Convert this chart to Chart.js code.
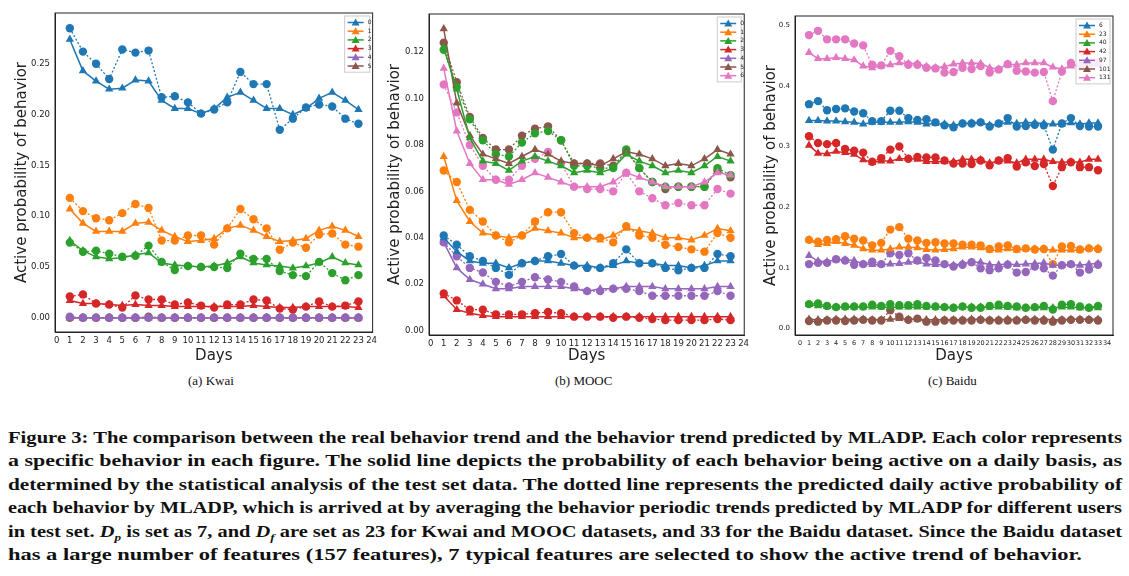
<!DOCTYPE html>
<html>
<head>
<meta charset="utf-8">
<script src="https://cdn.jsdelivr.net/npm/chart.js@4.4.0/dist/chart.umd.min.js"></script>
<style>
body { margin: 0; background: #fff; width: 1129px; height: 576px; overflow: hidden; position: relative; }
.cv { position: absolute; top: 0; height: 365px; }
.sub { position: absolute; top: 373px; font: 13px "Liberation Serif", serif; color: #111; }
#cap { position: absolute; left: 8px; top: 428px; width: 1114px; font: bold 17px "Liberation Serif", serif; color: #111; }
#cap div { height: 23.4px; white-space: nowrap; }
#cap span.ln { display: inline-block; transform-origin: 0 0; }
</style>
</head>
<body>
<div class="cv" style="left:0;width:378px"><canvas id="kwai"></canvas></div>
<div class="cv" style="left:370px;width:380px"><canvas id="mooc"></canvas></div>
<div class="cv" style="left:750px;width:379px"><canvas id="baidu"></canvas></div>
<div class="sub" style="left:188px">(a) Kwai</div>
<div class="sub" style="left:555px">(b) MOOC</div>
<div class="sub" style="left:928px">(c) Baidu</div>
<div id="cap">
<div><span class="ln">Figure 3: The comparison between the real behavior trend and the behavior trend predicted by MLADP. Each color represents</span></div>
<div><span class="ln">a specific behavior in each figure. The solid line depicts the probability of each behavior being active on a daily basis, as</span></div>
<div><span class="ln">determined by the statistical analysis of the test set data. The dotted line represents the predicted daily active probability of</span></div>
<div><span class="ln">each behavior by MLADP, which is arrived at by averaging the behavior periodic trends predicted by MLADP for different users</span></div>
<div><span class="ln">in test set. <i>D<sub style="font-size:11px">p</sub></i> is set as 7, and <i>D<sub style="font-size:11px">f</sub></i> are set as 23 for Kwai and MOOC datasets, and 33 for the Baidu dataset. Since the Baidu dataset</span></div>
<div><span class="ln" data-w="1074">has a large number of features (157 features), 7 typical features are selected to show the active trend of behavior.</span></div>
</div>
<script>
var colors = ['#1f77b4', '#ff7f0e', '#2ca02c', '#d62728', '#9467bd', '#8c564b', '#e377c2'];

// ---- Kwai ----
var kwai_labels = ['0', '1', '2', '3', '4', '5'];
var kwai_real = [
    [.274,.243,.233,.225,.226,.234,.233,.214,.206,.206,.201,.206,.217,.222,.214,.206,.206,.200,.206,.216,.222,.214,.205],
    [.107,.093,.085,.085,.085,.093,.094,.086,.080,.075,.076,.078,.088,.091,.086,.080,.075,.076,.078,.086,.090,.086,.080],
    [.076,.066,.060,.058,.059,.062,.064,.054,.052,.051,.050,.051,.054,.060,.054,.052,.051,.049,.051,.054,.060,.054,.052],
    [.017,.014,.014,.013,.012,.013,.012,.012,.011,.011,.011,.011,.011,.011,.012,.011,.010,.010,.011,.011,.011,.011,.010],
    [0,0,0,0,0,0,0,0,0,0,0,0,0,0,0,0,0,0,0,0,0,0,0],
    [0,0,0,0,0,0,0,0,0,0,0,0,0,0,0,0,0,0,0,0,0,0,0]
];
var kwai_pred = [
    [.285,.262,.250,.235,.264,.261,.263,.217,.218,.212,.201,.205,.212,.242,.230,.230,.185,.196,.207,.210,.208,.196,.191],
    [.118,.105,.098,.096,.103,.112,.108,.076,.076,.081,.081,.072,.088,.107,.097,.088,.067,.074,.069,.082,.083,.072,.070],
    [.074,.065,.066,.063,.060,.061,.071,.055,.047,.051,.050,.050,.049,.063,.058,.058,.046,.042,.041,.055,.044,.037,.042],
    [.021,.023,.014,.013,.010,.022,.018,.018,.013,.015,.012,.010,.013,.013,.018,.017,.009,.008,.011,.016,.011,.012,.016],
    [.001,0,0,0,0,0,0,0,0,0,0,0,0,0,0,0,0,0,0,0,0,0,0],
    [0,0,0,0,0,0,.001,0,0,0,0,0,0,0,0,0,0,0,0,0,0,0,0]
];
var kwai_yticks = [0, 0.05, 0.10, 0.15, 0.20, 0.25];

// ---- MOOC ----
var mooc_labels = ['0', '1', '2', '3', '4', '5', '6'];
var mooc_real = [
    [.040,.034,.030,.029,.029,.027,.029,.030,.030,.029,.028,.028,.027,.028,.030,.029,.029,.028,.028,.027,.028,.030,.030],
    [.075,.056,.047,.042,.041,.040,.041,.044,.043,.042,.040,.040,.039,.041,.044,.043,.042,.040,.040,.039,.041,.044,.043],
    [.122,.104,.083,.073,.072,.069,.073,.075,.073,.071,.068,.069,.068,.070,.076,.073,.071,.068,.069,.068,.071,.075,.073],
    [.015,.009,.0075,.0065,.006,.006,.006,.006,.006,.006,.006,.006,.006,.006,.006,.006,.006,.006,.006,.006,.006,.006,.006],
    [.038,.027,.022,.020,.018,.018,.019,.019,.019,.019,.018,.017,.018,.018,.019,.019,.019,.018,.018,.018,.018,.019,.019],
    [.130,.098,.084,.076,.074,.072,.075,.078,.076,.073,.072,.072,.071,.074,.077,.076,.074,.071,.072,.071,.074,.078,.076],
    [.113,.086,.072,.065,.065,.063,.065,.068,.066,.064,.062,.062,.062,.064,.068,.066,.064,.062,.062,.062,.064,.068,.067]
];
var mooc_pred = [
    [.041,.037,.032,.030,.027,.024,.029,.030,.032,.033,.028,.027,.027,.029,.035,.029,.029,.027,.026,.027,.027,.033,.032],
    [.069,.064,.052,.047,.041,.038,.041,.047,.051,.051,.042,.040,.040,.038,.045,.041,.040,.037,.036,.035,.034,.042,.040],
    [.121,.105,.091,.082,.076,.075,.081,.085,.086,.082,.071,.071,.070,.070,.078,.070,.064,.062,.062,.062,.062,.070,.067],
    [.016,.013,.009,.009,.007,.007,.007,.0075,.008,.0075,.006,.006,.006,.0055,.006,.0055,.005,.0045,.0045,.0045,.0045,.005,.0045],
    [.038,.032,.027,.025,.021,.019,.021,.023,.022,.021,.019,.017,.017,.018,.018,.017,.015,.015,.015,.015,.015,.017,.015],
    [.124,.107,.092,.083,.078,.078,.084,.087,.088,.082,.072,.072,.072,.071,.077,.070,.064,.061,.062,.062,.062,.069,.066],
    [.106,.094,.080,.071,.065,.065,.071,.074,.077,.072,.062,.061,.061,.060,.068,.060,.057,.054,.055,.054,.054,.061,.059]
];
var mooc_yticks = [0, 0.02, 0.04, 0.06, 0.08, 0.10, 0.12];

// ---- Baidu ----
var baidu_labels = ['6', '23', '40', '42', '97', '101', '131'];
var baidu_real = [
    [.343,.343,.342,.342,.341,.340,.337,.340,.340,.340,.340,.341,.340,.337,.338,.337,.335,.338,.339,.340,.335,.337,.340,.338,.340,.339,.338,.337,.337,.339,.337,.339,.339],
    [.146,.138,.140,.143,.140,.137,.131,.129,.129,.131,.134,.134,.133,.130,.129,.130,.131,.134,.134,.133,.129,.129,.131,.129,.131,.131,.131,.129,.129,.129,.129,.132,.132],
    [.039,.037,.036,.035,.035,.035,.035,.035,.035,.035,.035,.035,.035,.035,.035,.035,.034,.035,.035,.035,.035,.035,.035,.034,.034,.034,.034,.034,.035,.035,.034,.034,.034],
    [.302,.289,.288,.292,.290,.287,.278,.274,.276,.276,.280,.280,.279,.275,.275,.275,.275,.279,.279,.278,.273,.276,.276,.273,.279,.279,.279,.275,.274,.275,.274,.279,.279],
    [.120,.111,.110,.113,.113,.112,.106,.105,.105,.106,.107,.109,.110,.106,.105,.105,.104,.107,.109,.109,.105,.105,.106,.105,.106,.107,.108,.104,.104,.105,.104,.106,.107],
    [.015,.014,.014,.015,.015,.015,.015,.014,.014,.015,.016,.015,.015,.014,.014,.014,.014,.014,.015,.015,.014,.014,.015,.014,.015,.015,.015,.014,.014,.015,.015,.015,.015],
    [.455,.445,.445,.447,.445,.443,.433,.430,.433,.435,.438,.437,.437,.432,.430,.432,.436,.438,.438,.437,.430,.428,.436,.435,.438,.438,.438,.431,.428,.433,.434,.436,.436]
];
var baidu_pred = [
    [.370,.375,.360,.362,.363,.358,.355,.342,.342,.359,.359,.347,.344,.345,.340,.335,.332,.338,.338,.340,.333,.338,.347,.333,.334,.336,.335,.295,.338,.347,.334,.333,.333],
    [.146,.143,.146,.147,.152,.148,.145,.137,.141,.163,.167,.148,.145,.141,.142,.140,.140,.138,.138,.137,.131,.135,.137,.131,.132,.130,.131,.106,.135,.136,.130,.132,.131],
    [.040,.041,.037,.035,.036,.036,.036,.039,.037,.040,.038,.038,.040,.037,.036,.035,.034,.036,.034,.034,.037,.039,.037,.036,.034,.035,.037,.031,.039,.040,.036,.034,.037],
    [.317,.306,.304,.306,.296,.293,.290,.275,.281,.295,.300,.280,.283,.282,.282,.277,.272,.272,.271,.277,.269,.277,.281,.267,.274,.268,.271,.235,.266,.274,.266,.266,.261],
    [.106,.108,.108,.114,.112,.105,.106,.110,.106,.124,.121,.124,.112,.116,.112,.106,.102,.105,.109,.099,.096,.099,.105,.092,.093,.102,.099,.087,.104,.106,.092,.097,.105],
    [.012,.011,.013,.013,.012,.013,.014,.013,.013,.030,.019,.014,.016,.011,.011,.013,.013,.013,.013,.014,.013,.013,.013,.013,.014,.013,.013,.011,.013,.014,.014,.014,.013],
    [.484,.491,.477,.477,.477,.470,.467,.435,.434,.458,.449,.435,.435,.430,.429,.422,.423,.430,.428,.433,.422,.427,.436,.425,.424,.422,.423,.375,.424,.438,.433,.437,.438]
];
var baidu_yticks = [0, 0.1, 0.2, 0.3, 0.4, 0.5];

// stretch each caption line to the width it has in the picture
document.querySelectorAll('#cap span.ln').forEach(function (s) {
    var target = parseFloat(s.getAttribute('data-w') || 1114);
    s.style.transform = 'scaleX(' + (target / s.getBoundingClientRect().width) + ')';
});

// box around the plot + small legend with the real (triangle) series
var framePlugin = {
    id: 'frame',
    afterDraw: function (chart) {
        var a = chart.chartArea, c = chart.ctx;
        c.save();
        c.strokeStyle = '#222'; c.lineWidth = 1;
        c.strokeRect(a.left, a.top, a.right - a.left, a.bottom - a.top);
        var labels = chart.options.plugins.frame.labels;
        var w = chart.options.plugins.frame.boxW, rowH = 8.7;
        var x0 = a.right - w - 3, y0 = a.top + 3;
        c.fillStyle = 'rgba(255,255,255,0.85)';
        c.strokeStyle = '#ccc';
        c.fillRect(x0, y0, w, labels.length * rowH + 4);
        c.strokeRect(x0, y0, w, labels.length * rowH + 4);
        c.font = '6px "DejaVu Sans"';
        c.textBaseline = 'middle';
        for (var i = 0; i < labels.length; i++) {
            var y = y0 + 6.5 + i * rowH;
            c.strokeStyle = colors[i]; c.fillStyle = colors[i]; c.lineWidth = 1.5;
            c.beginPath(); c.moveTo(x0 + 3, y); c.lineTo(x0 + 19, y); c.stroke();
            c.beginPath(); c.moveTo(x0 + 11, y - 4); c.lineTo(x0 + 15, y + 3); c.lineTo(x0 + 7, y + 3); c.closePath(); c.fill();
            c.fillStyle = '#222';
            c.fillText(labels[i], x0 + 23, y);
        }
        c.restore();
    }
};

function makeChart(id, labels, real, pred, yticks, cfg) {
    var datasets = [];
    for (var i = 0; i < real.length; i++) {
        datasets.push({
            data: pred[i].map(function (v, j) { return { x: j + 1, y: v }; }),
            borderColor: colors[i], backgroundColor: colors[i],
            borderWidth: 1.3, borderDash: [2, 2], pointStyle: 'circle',
            pointRadius: 4.2, pointBorderWidth: 0, order: 2
        });
        datasets.push({
            data: real[i].map(function (v, j) { return { x: j + 1, y: v }; }),
            borderColor: colors[i], backgroundColor: colors[i],
            borderWidth: 1.5, pointStyle: 'triangle',
            pointRadius: 4.8, pointBorderWidth: 0, order: 1
        });
    }
    var xticks = [];
    for (var k = 0; k <= cfg.xmaxTick; k++) xticks.push(k);
    return new Chart(document.getElementById(id), {
        type: 'line',
        data: { datasets: datasets },
        options: {
            responsive: true, maintainAspectRatio: false, animation: false,
            layout: { padding: { top: cfg.top, right: cfg.right, left: cfg.left, bottom: 0 } },
            scales: {
                x: {
                    type: 'linear', min: cfg.xmin, max: cfg.xmax,
                    grid: { display: false, drawTicks: true, tickLength: 3 },
                    border: { color: '#222' },
                    afterBuildTicks: function (s) { s.ticks = xticks.map(function (v) { return { value: v }; }); },
                    afterFit: function (s) { s.height = cfg.xh; },
                    ticks: { autoSkip: false, maxRotation: 0, padding: 1, color: '#222', font: { family: 'DejaVu Sans', size: cfg.xfont } },
                    title: { display: true, text: 'Days', color: '#222', padding: 0, font: { family: 'DejaVu Sans', size: 15 } }
                },
                y: {
                    min: cfg.ymin, max: cfg.ymax,
                    grid: { display: false, drawTicks: true, tickLength: 3 },
                    border: { color: '#222' },
                    afterBuildTicks: function (s) { s.ticks = yticks.map(function (v) { return { value: v }; }); },
                    afterFit: function (s) { s.width = cfg.yw; },
                    ticks: { padding: 2, color: '#222', font: { family: 'DejaVu Sans', size: cfg.yfont },
                        callback: function (v) { return v.toFixed(cfg.dec); } },
                    title: { display: true, text: 'Active probability of behavior', color: '#222', padding: 0, font: { family: 'DejaVu Sans', size: 15 } }
                }
            },
            plugins: {
                legend: { display: false }, tooltip: { enabled: false },
                frame: { labels: labels, boxW: cfg.boxW }
            }
        },
        plugins: [framePlugin]
    });
}

makeChart('kwai', kwai_labels, kwai_real, kwai_pred, kwai_yticks,
    { top: 13, right: 5, left: 13, xh: 33, yw: 42, xmin: -0.13, xmax: 24.08, xmaxTick: 24, ymin: -0.014, ymax: 0.30, dec: 2, xfont: 8.5, yfont: 8.5, boxW: 25 });
makeChart('mooc', mooc_labels, mooc_real, mooc_pred, mooc_yticks,
    { top: 14, right: 2, left: 16, xh: 30, yw: 43, xmin: -0.13, xmax: 24.05, xmaxTick: 24, ymin: -0.0019, ymax: 0.1364, dec: 2, xfont: 8.5, yfont: 8.5, boxW: 24 });
makeChart('baidu', baidu_labels, baidu_real, baidu_pred, baidu_yticks,
    { top: 16, right: 16, left: 12, xh: 30, yw: 33, xmin: -0.55, xmax: 34.66, xmaxTick: 34, ymin: -0.011, ymax: 0.5155, dec: 1, xfont: 6.5, yfont: 7, boxW: 34 });
</script>
</body>
</html>
